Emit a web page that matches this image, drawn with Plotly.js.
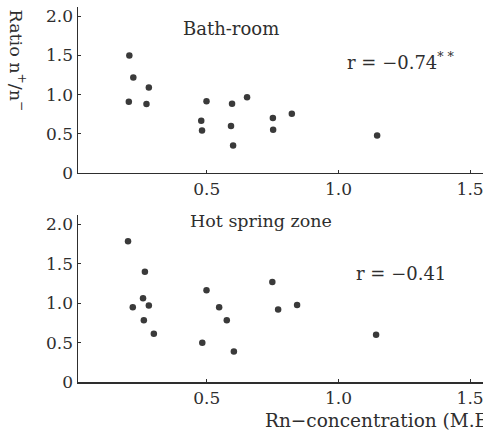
<!DOCTYPE html>
<html>
<head>
<meta charset="utf-8">
<script src="https://cdn.plot.ly/plotly-3.0.1.min.js"></script>
<style>html,body{margin:0;padding:0;background:#fff;}#chart{width:483px;height:433px;}</style>
</head>
<body>
<div id="chart"></div>
<script>
// Bath-room panel
const bathRn = [0.206, 0.221, 0.280, 0.204, 0.271, 0.499, 0.479, 0.482, 0.596, 0.653, 0.592, 0.600, 0.751, 0.752, 0.823, 1.147];
const bathRatio = [1.50, 1.22, 1.09, 0.91, 0.88, 0.915, 0.667, 0.54, 0.884, 0.966, 0.60, 0.35, 0.70, 0.55, 0.756, 0.476];
// Hot spring zone panel
const hotRn = [0.201, 0.265, 0.258, 0.219, 0.280, 0.261, 0.299, 0.499, 0.547, 0.576, 0.483, 0.603, 0.749, 0.771, 0.843, 1.143];
const hotRatio = [1.786, 1.398, 1.062, 0.948, 0.969, 0.782, 0.612, 1.165, 0.948, 0.782, 0.497, 0.386, 1.267, 0.918, 0.977, 0.599];

const xTicks = [0.5, 1.0, 1.5];
const xTickText = ["0.5", "1.0", "1.5"];
const yTicks = [0, 0.5, 1.0, 1.5, 2.0];
const yTickText = ["0", "0.5", "1.0", "1.5", "2.0"];

const panelTitles = ["Bath-room", "Hot spring zone"];
const rLabels = ["r = −0.74<sup>* *</sup>", "r = −0.41"];
const xTitle = "Rn−concentration (M.E.)";
const yTitle = "Ratio n<sup>+</sup>/n<sup>−</sup>";

const ink = "#2e2e2e";
const fontFam = "DejaVu Serif, serif";

const marker = {size: 6.5, color: "#3a3a3a"};
const traces = [
  {x: bathRn, y: bathRatio, type: "scatter", mode: "markers", marker: marker, xaxis: "x", yaxis: "y", hoverinfo: "none"},
  {x: hotRn, y: hotRatio, type: "scatter", mode: "markers", marker: marker, xaxis: "x2", yaxis: "y2", hoverinfo: "none"}
];

function xa(anchor) {
  return {
    range: [0.011, 1.549], anchor: anchor, showgrid: false, zeroline: false,
    showline: true, linecolor: ink, linewidth: 1.5,
    ticks: "inside", ticklen: 3, tickcolor: ink, tickwidth: 1,
    tickvals: xTicks, ticktext: xTickText, ticklabeloverflow: "allow",
    tickfont: {family: fontFam, size: 17, color: ink}
  };
}
function ya(anchor, domain) {
  return {
    range: [0, 2.12], anchor: anchor, domain: domain, showgrid: false, zeroline: false,
    showline: true, linecolor: ink, linewidth: 1.5,
    ticks: "inside", ticklen: 3, tickcolor: ink, tickwidth: 1,
    tickvals: yTicks, ticktext: yTickText,
    tickfont: {family: fontFam, size: 17, color: ink}
  };
}

const layout = {
  width: 483, height: 433,
  margin: {l: 78, r: 0, t: 7, b: 50.7},
  paper_bgcolor: "#ffffff", plot_bgcolor: "#ffffff",
  showlegend: false,
  font: {family: fontFam, color: ink, size: 17},
  xaxis: xa("y"),
  yaxis: ya("x", [0.5577, 1.0]),
  xaxis2: xa("y2"),
  yaxis2: ya("x2", [0, 0.4458]),
  annotations: [
    {text: panelTitles[0], x: 0.591, y: 1.85, xref: "x", yref: "y", showarrow: false, font: {size: 18}},
    {text: rLabels[0], x: 1.238, y: 1.43, xref: "x", yref: "y", showarrow: false, font: {size: 18}},
    {text: panelTitles[1], x: 0.707, y: 2.045, xref: "x2", yref: "y2", showarrow: false, font: {size: 17.5}},
    {text: rLabels[1], x: 1.237, y: 1.38, xref: "x2", yref: "y2", showarrow: false, font: {size: 18}},
    {text: xTitle, x: 0.456, y: -0.103, xref: "paper", yref: "paper", xanchor: "left", yanchor: "middle", showarrow: false, font: {size: 18.5}},
    {text: yTitle, x: -0.148, y: 0.857, xref: "paper", yref: "paper", xanchor: "center", yanchor: "middle", textangle: 90, showarrow: false, font: {size: 17.5}}
  ]
};

Plotly.newPlot("chart", traces, layout, {staticPlot: true, displayModeBar: false});
</script>
</body>
</html>
